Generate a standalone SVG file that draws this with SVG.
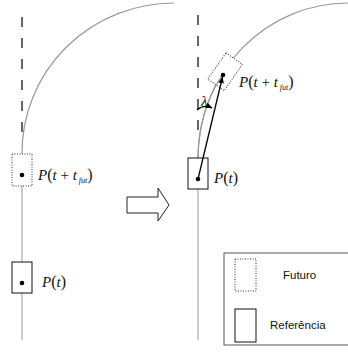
<svg xmlns="http://www.w3.org/2000/svg" width="348" height="353" viewBox="0 0 348 353">
<style>
.dash{stroke:#666;stroke-width:2;stroke-dasharray:10,11;fill:none}
.curve{stroke:#999;stroke-width:1.2;fill:none}
.track{stroke:#bbb;stroke-width:1.5;fill:none}
.fut{fill:#fff;stroke:#333;stroke-width:1;stroke-dasharray:1,1.5}
.ref{fill:#fff;stroke:#111;stroke-width:1}
.dot{fill:#000}
.lbl{font-family:"Liberation Serif",serif;font-size:15px;fill:#111}
.it{font-style:italic}
.leg{font-family:"Liberation Sans",Arial,sans-serif;font-size:11.5px;fill:#111}
</style>
<defs>
<marker id="ah" viewBox="0 0 10 10" refX="9" refY="5" markerWidth="7" markerHeight="7" orient="auto-start-reverse" markerUnits="userSpaceOnUse">
<path d="M0,1 L10,5 L0,9 z" fill="#000"/>
</marker>
</defs>
<g id="connectors">
<line class="dash" x1="22" y1="17" x2="22" y2="136"/>
<path class="curve" d="M22,154 A152,150 0 0 1 174,3"/>
<line class="track" x1="22" y1="186" x2="22" y2="340"/>
<line class="dash" x1="198" y1="15" x2="198" y2="140"/>
<path class="curve" d="M198,158 A150,155 0 0 1 348,3"/>
<line class="track" x1="198" y1="189" x2="198" y2="340"/>
</g>
<g id="left-future">
<rect class="fut" x="12" y="154" width="20" height="32"/>
<circle class="dot" cx="22" cy="175" r="2.3"/>
<text class="lbl" x="38" y="180"><tspan class="it">P</tspan><tspan font-size="16">(</tspan><tspan class="it">t</tspan> + <tspan class="it">t</tspan><tspan class="it" font-size="8" dy="2.5"> fut</tspan><tspan font-size="16" dy="-2.5">)</tspan></text>
</g>
<g id="left-ref">
<rect class="ref" x="12" y="262" width="20" height="31"/>
<circle class="dot" cx="22" cy="283" r="2.3"/>
<text class="lbl" x="42" y="287"><tspan class="it">P</tspan><tspan font-size="16">(</tspan><tspan class="it">t</tspan><tspan font-size="16">)</tspan></text>
</g>
<g id="transition-arrow">
<path d="M127,197 L158,197 L158,188 L169,205 L158,221 L158,213 L127,213 Z" fill="#fff" stroke="#222" stroke-width="1"/>
</g>
<g id="right-future">
<rect class="fut" x="215" y="56" width="20" height="32" transform="rotate(35 225.5 72)"/>
<path class="curve" d="M222,75 A150,155 0 0 0 198,158"/>
<circle class="dot" cx="223" cy="75" r="2.3"/>
<text class="lbl" x="239" y="87"><tspan class="it">P</tspan><tspan font-size="16">(</tspan><tspan class="it">t</tspan> + <tspan class="it">t</tspan><tspan class="it" font-size="8" dy="2.5"> fut</tspan><tspan font-size="16" dy="-2.5">)</tspan></text>
</g>
<g id="right-ref">
<rect class="ref" x="188" y="158" width="20" height="31"/>
<circle class="dot" cx="198" cy="179" r="2.3"/>
<text class="lbl" x="214" y="183"><tspan class="it">P</tspan><tspan font-size="16">(</tspan><tspan class="it">t</tspan><tspan font-size="16">)</tspan></text>
</g>
<g id="heading-vector">
<line x1="198" y1="179" x2="222.5" y2="77" stroke="#000" stroke-width="1.3" marker-end="url(#ah)"/>
<path d="M197,110 Q204,104 212,108" fill="none" stroke="#000" stroke-width="1.2" marker-end="url(#ah)"/>
<text class="lbl it" x="201" y="106" font-size="12">λ</text>
</g>
<g id="legend">
<rect x="224" y="253" width="126" height="92" fill="#fff" stroke="#555" stroke-width="1"/>
<rect class="fut" x="235" y="259" width="21" height="32"/>
<text class="leg" x="283" y="279">Futuro</text>
<rect class="ref" x="235" y="309" width="21" height="33"/>
<text class="leg" x="270" y="329">Referência</text>
</g>
</svg>
